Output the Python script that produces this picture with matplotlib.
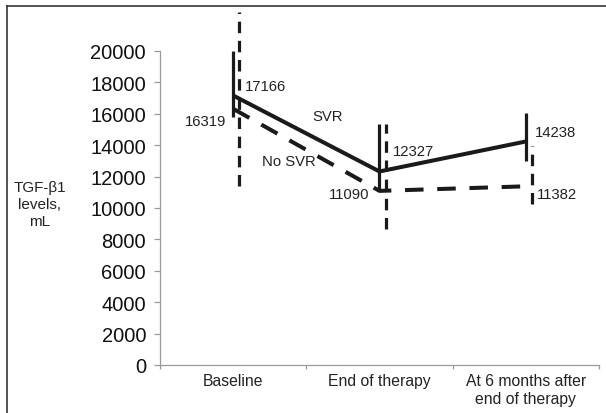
import matplotlib
matplotlib.use("Agg")
import matplotlib.pyplot as plt
from matplotlib.lines import Line2D

plt.rcParams['font.family'] = ['Liberation Sans', 'DejaVu Sans']

categories = ["Baseline", "End of therapy", "At 6 months after\nend of therapy"]
svr = [17166, 12327, 14238]
no_svr = [16319, 11090, 11382]
svr_err_lo = [15800, 11200, 12990]
svr_err_hi = [20000, 15350, 16050]
nosvr_err_lo = [11400, 8660, 10250]
nosvr_err_hi = [22480, 15350, 13950]
yticks = list(range(0, 20001, 2000))

W, H = 606, 414
fig = plt.figure(figsize=(W / 100, H / 100), dpi=100)
ax = fig.add_axes([160 / W, (H - 366) / H, (599 - 160) / W, (366 - 52) / H])
ax.set_xlim(-0.5, 2.5)
ax.set_ylim(0, 20000)

x = list(range(len(categories)))
col = "#1a1a1a"
off = 0.042

ax.plot(x, svr, color=col, lw=2.9, solid_capstyle='butt', zorder=3)
ax.plot(x, no_svr, color=col, lw=2.9, linestyle=(0, (4.6, 3.4)), zorder=3)
ax.vlines(x, svr_err_lo, svr_err_hi, colors=col, lw=2.3, zorder=4)
ax.vlines([v + off for v in x], nosvr_err_lo, nosvr_err_hi, colors=col, lw=2.3,
          linestyles=[(0, (3.6, 2.4))], zorder=4, clip_on=False)

fs_lab = 10.7
px = 0.72
lab_specs = [
    (0, svr[0], svr[0], 12, 9, 'left'),
    (0, no_svr[0], no_svr[0], -7, -12, 'right'),
    (1, svr[1], svr[1], 13, 20, 'left'),
    (1, no_svr[1], no_svr[1], -10, -3, 'right'),
    (2, svr[2], svr[2], 9, 9.5, 'left'),
    (2, no_svr[2], no_svr[2], 11, -8, 'left'),
]
for xi, yi, val, dx, dy, ha in lab_specs:
    ax.annotate(f"{val}", (xi, yi), xytext=(dx * px, dy * px), textcoords='offset points',
                ha=ha, va='center', fontsize=fs_lab, color="#222222")

ax.text(0.539, 15860, "SVR", fontsize=fs_lab, color="#222222", ha='left', va='center')
ax.text(0.197, 12994, "No SVR", fontsize=fs_lab, color="#222222", ha='left', va='center')

for s in ['top', 'right']:
    ax.spines[s].set_visible(False)
for s in ['left', 'bottom']:
    ax.spines[s].set_color("#9a9a9a")
    ax.spines[s].set_linewidth(0.9)

ax.set_yticks(yticks)
ax.set_yticklabels([str(t) for t in yticks], fontsize=14.5, color="#111111")
ax.tick_params(axis='y', direction='out', length=4, width=0.9, color="#9a9a9a", pad=6)

ax.set_xticks(x)
ax.set_xticklabels(categories, fontsize=11.3, color="#222222", linespacing=1.2)
ax.tick_params(axis='x', which='major', length=0, pad=6)
ax.set_xticks([-0.5, 0.5, 1.5, 2.5], minor=True)
ax.tick_params(axis='x', which='minor', direction='out', length=3, width=0.9, color="#9a9a9a")

fig.text(40 / W, 1 - 205 / H, "TGF-β1\nlevels,\nmL", ha='center', va='center',
         fontsize=11, color="#222222", linespacing=1.3)

fig.add_artist(Line2D([7 / W, 7 / W], [0, 1 - 7 / H], color="#333333", lw=1.2))
fig.add_artist(Line2D([7 / W, 1], [1 - 7 / H, 1 - 7 / H], color="#333333", lw=1.2))

fig.savefig("out.png", dpi=100)
